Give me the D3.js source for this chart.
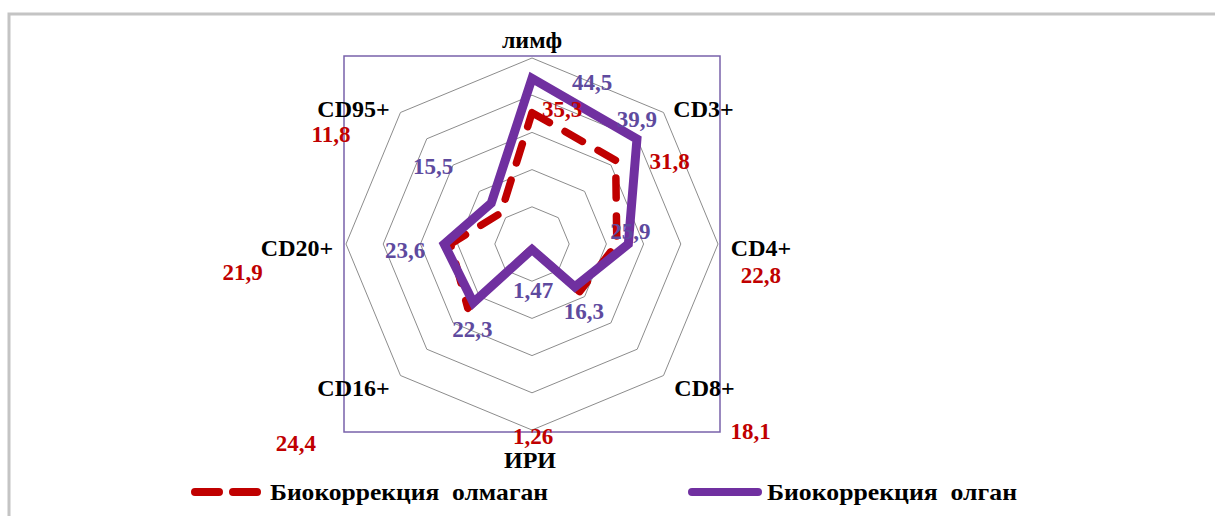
<!DOCTYPE html>
<html>
<head>
<meta charset="utf-8">
<script src="https://cdn.jsdelivr.net/npm/d3@7"></script>
<style>
  html, body { margin: 0; padding: 0; background: #fff; }
  svg { display: block; }
  text { font-family: "Liberation Serif", "Times New Roman", serif; font-weight: bold; }
</style>
</head>
<body>
<svg id="chart" width="1215" height="516"></svg>
<script>
// ---- data ----
const categories = ["лимф", "CD3+", "CD4+", "CD8+", "ИРИ", "CD16+", "CD20+", "CD95+"];
const seriesNames = ["Биокоррекция  олмаган", "Биокоррекция  олган"];
const valuesNo  = [35.3, 31.8, 22.8, 18.1, 1.26, 24.4, 21.9, 11.8];   // red dashed
const valuesYes = [44.5, 39.9, 25.9, 16.3, 1.47, 22.3, 23.6, 15.5];   // purple solid
const labelsNo  = ["35,3", "31,8", "22,8", "18,1", "1,26", "24,4", "21,9", "11,8"];
const labelsYes = ["44,5", "39,9", "25,9", "16,3", "1,47", "22,3", "23,6", "15,5"];
const ringTicks = [10, 20, 30, 40, 50];

// ---- layout ----
const cx = 532, cy = 244, R = 186;
const colRed = "#c00000", colPurple = "#7030a0";
const colRedText = "#c00000", colPurpleText = "#5e4a9e";
// label offsets (pixels from the data point)
const offNo  = [[30,-3],[54,1],[144,31],[171,140],[1,188],[-172,135],[-208,28],[-170,-79]];
const offYes = [[60,4],[0,-20],[2,-13],[9,25],[1,41],[-1,27],[-39,6],[-58,-37]];
// category label offsets (pixels from outer vertex)
const offCat = [[0,-18],[40,-3],[43,4],[41,13],[-2,30],[-47,13],[-49,4],[-47,-3]];

const svg = d3.select("#chart");
const r = d3.scaleLinear().domain([0, 50]).range([0, R]);
const angle = d3.scalePoint().domain(categories).range([0, 2 * Math.PI * (categories.length) / categories.length]);
const ang = i => i * 2 * Math.PI / categories.length;
const px = (i, v) => cx + r(v) * Math.sin(ang(i));
const py = (i, v) => cy - r(v) * Math.cos(ang(i));

// outer document frame
svg.append("path")
  .attr("d", `M9,530 L9,14 L1230,14`)
  .attr("fill", "none").attr("stroke", "#c4c4c4").attr("stroke-width", 3);

// plot area frame
svg.append("rect")
  .attr("x", cx - r(50) - 2).attr("y", cy - r(50) - 2)
  .attr("width", 2 * r(50) + 4).attr("height", 2 * r(50) + 4)
  .attr("fill", "none").attr("stroke", "#7862aa").attr("stroke-width", 1.5);

// rings
const lineR = d3.line().x(d => d[0]).y(d => d[1]).curve(d3.curveLinearClosed);
ringTicks.forEach(t => {
  svg.append("path")
    .attr("d", lineR(categories.map((c, i) => [px(i, t), py(i, t)])))
    .attr("fill", "none").attr("stroke", "#8c8c8c").attr("stroke-width", 1);
});

// series
svg.append("path")
  .attr("d", lineR(valuesNo.map((v, i) => [px(i, v), py(i, v)])))
  .attr("fill", "none").attr("stroke", colRed).attr("stroke-width", 7.5)
  .attr("stroke-dasharray", "20,18").attr("stroke-linecap", "round").attr("stroke-linejoin", "round");
svg.append("path")
  .attr("d", lineR(valuesYes.map((v, i) => [px(i, v), py(i, v)])))
  .attr("fill", "none").attr("stroke", colPurple).attr("stroke-width", 9)
  .attr("stroke-linejoin", "miter");

// category labels
categories.forEach((c, i) => {
  svg.append("text")
    .attr("x", px(i, 50) + offCat[i][0]).attr("y", py(i, 50) + offCat[i][1])
    .attr("dy", "0.33em").attr("text-anchor", "middle")
    .attr("font-size", 24).attr("fill", "#000").text(c);
});

// data labels
valuesYes.forEach((v, i) => {
  svg.append("text")
    .attr("x", px(i, v) + offYes[i][0]).attr("y", py(i, v) + offYes[i][1])
    .attr("dy", "0.33em").attr("text-anchor", "middle")
    .attr("font-size", 23).attr("fill", colPurpleText).text(labelsYes[i]);
});
valuesNo.forEach((v, i) => {
  svg.append("text")
    .attr("x", px(i, v) + offNo[i][0]).attr("y", py(i, v) + offNo[i][1])
    .attr("dy", "0.33em").attr("text-anchor", "middle")
    .attr("font-size", 23).attr("fill", colRedText).text(labelsNo[i]);
});

// legend
const ly = 492;
svg.append("line").attr("x1", 195).attr("x2", 260).attr("y1", ly).attr("y2", ly)
  .attr("stroke", colRed).attr("stroke-width", 8).attr("stroke-linecap", "round")
  .attr("stroke-dasharray", "24,14");
svg.append("text").attr("x", 270).attr("y", ly).attr("dy", "0.33em")
  .attr("font-size", 24).attr("fill", "#000")
  .attr("textLength", 278).attr("lengthAdjust", "spacingAndGlyphs")
  .style("white-space", "pre").text(seriesNames[0]);
svg.append("line").attr("x1", 692).attr("x2", 758).attr("y1", ly).attr("y2", ly)
  .attr("stroke", colPurple).attr("stroke-width", 8).attr("stroke-linecap", "round");
svg.append("text").attr("x", 767).attr("y", ly).attr("dy", "0.33em")
  .attr("font-size", 24).attr("fill", "#000")
  .attr("textLength", 250).attr("lengthAdjust", "spacingAndGlyphs")
  .style("white-space", "pre").text(seriesNames[1]);
</script>
</body>
</html>
